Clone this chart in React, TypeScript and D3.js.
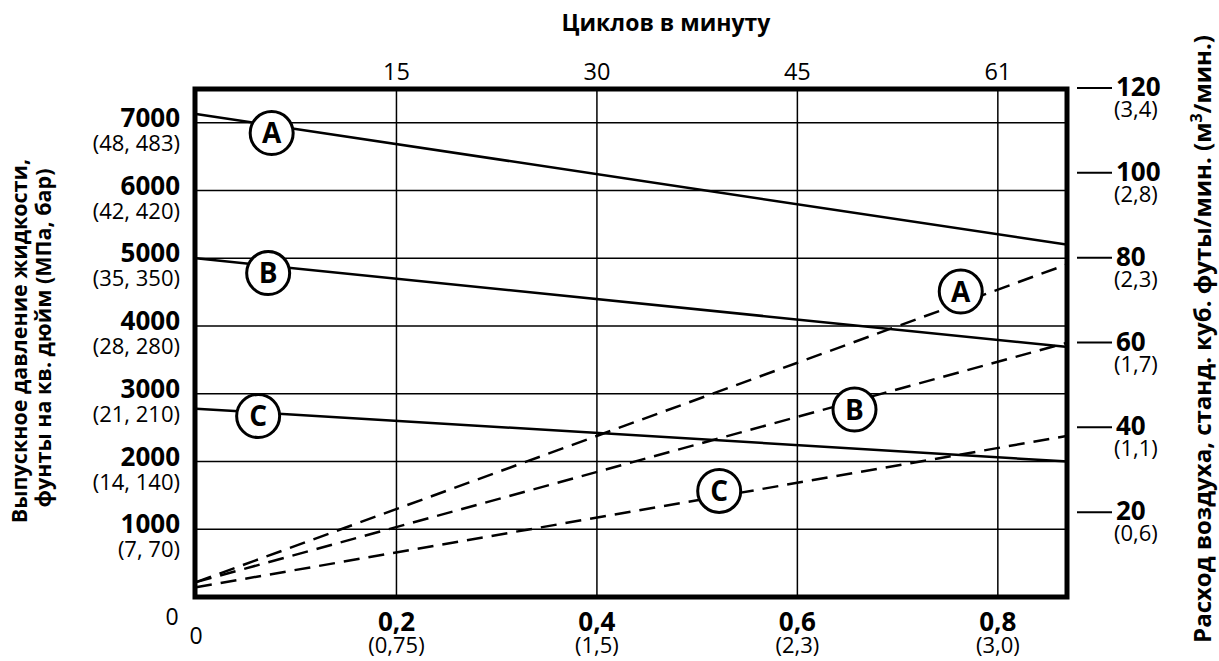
import React from "react";
import * as d3 from "d3";

// ---- data ----
const flowMax = 0.87;
const pressureMax = 7500;
const airMax = 120;

const flowTicks = [0.2, 0.4, 0.6, 0.8];
const flowLabels = ["0,2", "0,4", "0,6", "0,8"];
const flowMetric = ["(0,75)", "(1,5)", "(2,3)", "(3,0)"];
const cycleLabels = ["15", "30", "45", "61"];

const pressureTicks = [1000, 2000, 3000, 4000, 5000, 6000, 7000];
const pressureMetric = ["(7, 70)", "(14, 140)", "(21, 210)", "(28, 280)", "(35, 350)", "(42, 420)", "(48, 483)"];

const airTicks = [20, 40, 60, 80, 100, 120];
const airMetric = ["(0,6)", "(1,1)", "(1,7)", "(2,3)", "(2,8)", "(3,4)"];

const seriesNames = ["A", "B", "C"];
const lineFlow = [0, 0.87];
const pressureA = [7130, 5200];
const pressureB = [5000, 3690];
const pressureC = [2780, 2000];
const airA = [3.5, 78.5];
const airB = [3.5, 60];
const airC = [2.3, 38];

// label positions (data units)
const pressureLabelFlow = [0.0755, 0.072, 0.062];
const pressureLabelValue = [6850, 4783, 2672];
const airLabelFlow = [0.763, 0.657, 0.522];
const airLabelValue = [72, 44.2, 25];

const FONT = "'Open Sans', 'Noto Sans', sans-serif";

export default function App() {
  const W = 1219, H = 661;
  const left = 196, right = 1068, top = 89, bottom = 597;
  const x = d3.scaleLinear().domain([0, flowMax]).range([left, right]);
  const y = d3.scaleLinear().domain([0, pressureMax]).range([bottom, top]);
  const yAir = d3.scaleLinear().domain([0, airMax]).range([bottom, top - 1]);

  const line = d3.line<[number, number]>().x(d => d[0]).y(d => d[1]);
  const pSeries = [pressureA, pressureB, pressureC];
  const aSeries = [airA, airB, airC];

  return (
    <svg width={W} height={H} style={{ position: "absolute", left: 0, top: 0, background: "#fff" }} fontFamily={FONT}>
      <rect x={0} y={0} width={W} height={H} fill="#fff" />
      {/* grid */}
      {pressureTicks.map(v => (
        <line key={"gy" + v} x1={left} x2={right} y1={y(v)} y2={y(v)} stroke="#000" strokeWidth={1.5} />
      ))}
      {flowTicks.map(v => (
        <line key={"gx" + v} x1={x(v)} x2={x(v)} y1={top} y2={bottom} stroke="#000" strokeWidth={1.5} />
      ))}
      {/* solid pressure lines */}
      {pSeries.map((s, i) => (
        <path key={"p" + i} d={line(lineFlow.map((f, j) => [x(f), y(s[j])]) as [number, number][]) || ""}
          fill="none" stroke="#000" strokeWidth={2.5} />
      ))}
      {/* dashed air lines */}
      {aSeries.map((s, i) => (
        <path key={"a" + i} d={line(lineFlow.map((f, j) => [x(f), yAir(s[j])]) as [number, number][]) || ""}
          fill="none" stroke="#000" strokeWidth={2.5} strokeDasharray="16,9" />
      ))}
      {/* frame */}
      <rect x={left - 1} y={top} width={right - left} height={bottom - top} fill="none" stroke="#000" strokeWidth={5} />

      {/* series labels */}
      {seriesNames.map((n, i) => (
        <g key={"pl" + n} transform={`translate(${x(pressureLabelFlow[i])},${y(pressureLabelValue[i])})`}>
          <circle r={21.5} fill="#fff" stroke="#000" strokeWidth={3} />
          <text textAnchor="middle" dy={10} fontSize={28} fontWeight={700}>{n}</text>
        </g>
      ))}
      {seriesNames.map((n, i) => (
        <g key={"al" + n} transform={`translate(${x(airLabelFlow[i])},${yAir(airLabelValue[i])})`}>
          <circle r={21.5} fill="#fff" stroke="#000" strokeWidth={3} />
          <text textAnchor="middle" dy={10} fontSize={28} fontWeight={700}>{n}</text>
        </g>
      ))}

      {/* left axis labels */}
      {pressureTicks.map((v, i) => (
        <g key={"lt" + v}>
          <text x={180} y={y(v) + 4} textAnchor="end" fontSize={26} fontWeight={700}>{v}</text>
          <text x={180} y={y(v) + 28} textAnchor="end" fontSize={22}>{pressureMetric[i]}</text>
        </g>
      ))}
      <text x={172} y={625} textAnchor="middle" fontSize={23}>0</text>
      <text x={x(0)} y={644} textAnchor="middle" fontSize={23}>0</text>

      {/* bottom axis labels */}
      {flowTicks.map((v, i) => (
        <g key={"bt" + v}>
          <text x={x(v)} y={631} textAnchor="middle" fontSize={26} fontWeight={700}>{flowLabels[i]}</text>
          <text x={x(v)} y={653} textAnchor="middle" fontSize={22}>{flowMetric[i]}</text>
        </g>
      ))}

      {/* top axis labels */}
      {flowTicks.map((v, i) => (
        <text key={"tt" + v} x={x(v)} y={80} textAnchor="middle" fontSize={23.5}>{cycleLabels[i]}</text>
      ))}
      <text x={666} y={31} textAnchor="middle" fontSize={23} fontWeight={700}>Циклов в минуту</text>

      {/* right axis */}
      {airTicks.map((v, i) => (
        <g key={"rt" + v}>
          <line x1={1077} x2={1112} y1={yAir(v)} y2={yAir(v)} stroke="#000" strokeWidth={2} />
          <text x={1116} y={yAir(v) + 8} fontSize={26} fontWeight={700}>{v}</text>
          <text x={1114} y={yAir(v) + 29} fontSize={22}>{airMetric[i]}</text>
        </g>
      ))}

      {/* axis titles */}
      <text transform="translate(27,341) rotate(-90)" textAnchor="middle" fontSize={21.5} fontWeight={700}>Выпускное давление жидкости,</text>
      <text transform="translate(51,338) rotate(-90)" textAnchor="middle" fontSize={21.5} fontWeight={700}>фунты на кв. дюйм (МПа, бар)</text>
      <text transform="translate(1211,339) rotate(-90)" textAnchor="middle" fontSize={24} fontWeight={700}>
        Расход воздуха, станд. куб. футы/мин. (м<tspan dy={-9} fontSize={16}>3</tspan><tspan dy={9}>/мин.)</tspan>
      </text>
    </svg>
  );
}
